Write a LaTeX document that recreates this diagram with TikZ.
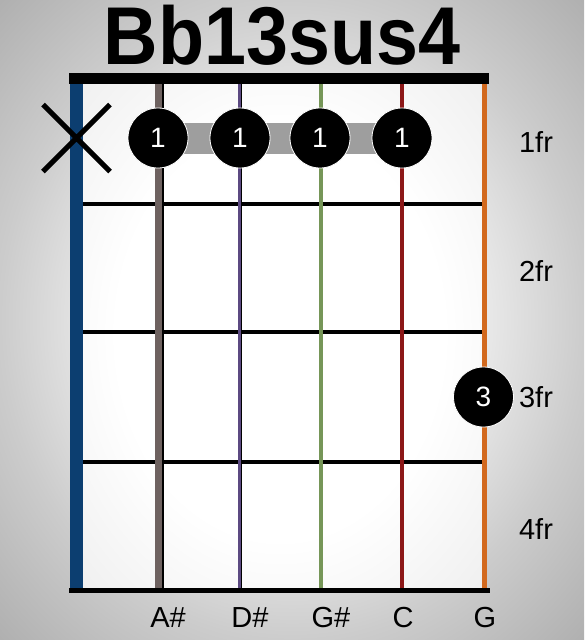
\documentclass[tikz,border=0pt]{standalone}
\usepackage{fontspec}
\setmainfont{Liberation Sans}
\usetikzlibrary{shapes.misc}
\pgfdeclareradialshading{vign}{\pgfpoint{0bp}{0bp}}{color(0bp)=(white); color(10bp)=(white); color(25bp)=(black!20); color(40bp)=(black!36); color(55bp)=(black!50); color(71bp)=(black!60)}
\pgfdeclareradialshading{boardshade}{\pgfpoint{0bp}{0bp}}{color(0bp)=(white); color(20bp)=(white); color(40bp)=(black!8); color(55bp)=(black!16); color(71bp)=(black!22)}
\definecolor{sBlue}{RGB}{12,62,112}
\definecolor{sGrey}{RGB}{110,98,96}
\definecolor{sPurple}{RGB}{92,74,130}
\definecolor{sGreen}{RGB}{118,150,88}
\definecolor{sRed}{RGB}{140,24,24}
\definecolor{sOrange}{RGB}{210,105,30}
\definecolor{barreGrey}{RGB}{158,158,158}
\begin{document}
\begin{tikzpicture}[x=1pt,y=-1pt,
  fretline/.style={line width=4.5pt,black},
  finger/.style={circle,fill=black,draw=white,line width=0.8pt,minimum size=60pt,inner sep=0pt,text=white,font=\fontsize{28}{28}\selectfont},
  frlabel/.style={font=\fontsize{29}{29}\selectfont,text=black,inner sep=0pt},
  notelabel/.style={font=\fontsize{29}{29}\selectfont,text=black,inner sep=0pt},
  mutemark/.style={cross out,draw=black,line width=5pt,minimum size=62pt,inner sep=0pt}]
\useasboundingbox (0,0) rectangle (584,640);
\shade[shading=vign] (0,0) rectangle (584,640);
\shade[shading=boardshade] (76,78) rectangle (484,590);
% title
\node[anchor=base,inner sep=0pt,font=\bfseries\fontsize{82}{82}\selectfont,xscale=0.92] (title) at (282,64) {Bb13sus4};
% string end coordinates
\foreach \n/\x in {1/76.5,2/159,3/240,4/321,5/402,6/484.5}{
  \coordinate (t\n) at (\x,78);
  \coordinate (b\n) at (\x,590);
}
% fret coordinates
\foreach \n/\y in {1/204,2/332,3/462}{
  \coordinate (fl\n) at (83,\y);
  \coordinate (fr\n) at (482,\y);
}
\foreach \n in {1,2,3}{ \draw[fretline] (fl\n) -- (fr\n); }
% strings
\draw[line width=13pt,sBlue] (t1) -- (b1);
\draw[line width=9pt,black] (t2) -- (b2);
\draw[line width=7pt,sGrey] ([xshift=-1pt]t2) -- ([xshift=-1pt]b2);
\draw[line width=4pt,black] (t3) -- (b3);
\draw[line width=2.6pt,sPurple] ([xshift=-0.5pt]t3) -- ([xshift=-0.5pt]b3);
\draw[line width=3.5pt,sGreen] (t4) -- (b4);
\draw[line width=4.5pt,sRed] (t5) -- (b5);
\draw[line width=5pt,sOrange] (t6) -- (b6);
% nut and bottom line
\coordinate (nutL) at (69,78.5);
\coordinate (nutR) at (489,78.5);
\draw[line width=11pt,black] (nutL) -- (nutR);
\coordinate (botL) at (69,590.5);
\coordinate (botR) at (490,590.5);
\draw[line width=5.5pt,black] (botL) -- (botR);
% barre
\fill[barreGrey] (158,123) rectangle (402,154);
% fingers
\node[finger] (f2) at (158,138) {1};
\node[finger] (f3) at (240,138) {1};
\node[finger] (f4) at (320,138) {1};
\node[finger] (f5) at (402,138) {1};
\node[finger] (f6) at (483.5,397) {3};
% mute
\node[mutemark] (mute) at (76.5,138) {};
% fret labels
\node[frlabel] (l1) at (536,142) {1fr};
\node[frlabel] (l2) at (536,271) {2fr};
\node[frlabel] (l3) at (536,397) {3fr};
\node[frlabel] (l4) at (536,529) {4fr};
% note labels
\node[notelabel] (n2) at (168,618) {A\#};
\node[notelabel] (n3) at (250,618) {D\#};
\node[notelabel] (n4) at (331,618) {G\#};
\node[notelabel] (n5) at (403,618) {C};
\node[notelabel] (n6) at (485,618) {G};
\end{tikzpicture}
\end{document}
